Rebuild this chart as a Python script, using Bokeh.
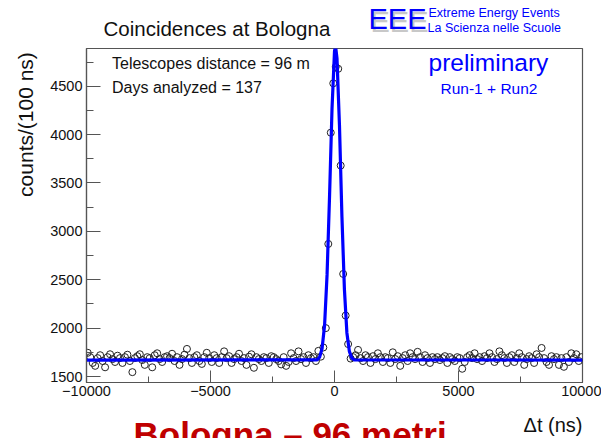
import math
from bokeh.plotting import figure
from bokeh.layouts import column, row
from bokeh.models import Label, SingleIntervalTicker, CustomJSTickFormatter, ColumnDataSource, Range1d
from bokeh.embed import file_html
from bokeh.resources import INLINE

# ---------------- data ----------------
bin_width = 100
x_min, x_max = -10000, 10000
y_min, y_max = 1438, 4890

counts_left = [
    1745, 1700, 1640, 1610, 1690, 1720, 1660, 1595, 1700, 1730,
    1680, 1650, 1715, 1690, 1640, 1700, 1725, 1660, 1545, 1690,
    1710, 1730, 1670, 1620, 1700, 1690, 1595, 1720, 1740, 1680,
    1650, 1700, 1710, 1690, 1735, 1660, 1700, 1620, 1680, 1725,
    1785, 1690, 1640, 1700, 1720, 1660, 1630, 1700, 1745, 1690,
    1650, 1720, 1690, 1640, 1700, 1760, 1690, 1710, 1640, 1680,
    1700, 1735, 1660, 1690, 1620, 1705, 1730, 1590, 1700, 1680,
    1660, 1700, 1690, 1640, 1710, 1700, 1680, 1660, 1625, 1700,
    1610, 1650, 1740, 1690, 1660, 1760, 1680, 1700, 1640, 1720,
    1690, 1700, 1660, 1765,
]
counts_peak = [1705, 1800, 2000, 2870, 4020, 4530, 4700, 4680, 3680, 2560, 2130, 1835]
counts_right = [
    1685, 1700, 1720, 1775,
    1690, 1660, 1720, 1700, 1640, 1710, 1680, 1740, 1700, 1650,
    1700, 1690, 1640, 1750, 1680, 1710, 1610, 1690, 1720, 1660,
    1740, 1700, 1680, 1755, 1700, 1650, 1720, 1690, 1640, 1700,
    1680, 1700, 1670, 1690, 1710, 1640, 1700, 1680, 1660, 1700,
    1690, 1580, 1650, 1700, 1720, 1690, 1740, 1680, 1700, 1660,
    1710, 1690, 1740, 1700, 1650, 1680, 1760, 1720, 1690, 1640,
    1700, 1720, 1650, 1690, 1740, 1700, 1620, 1680, 1710, 1690,
    1640, 1730, 1700, 1795, 1690, 1650, 1620, 1710, 1680, 1700,
    1620, 1690, 1600, 1700, 1650, 1740, 1690, 1730, 1660, 1700,
]
counts = counts_left + counts_peak + counts_right
bin_centers = list(range(x_min + bin_width // 2, x_max, bin_width))

# fitted curve vertices
fit_x = [-10000, -700, -600, -500, -400, -300, -200, -100, 0, 40, 100, 200, 300, 400, 500, 600, 700, 800, 10000]
fit_y = [1670, 1672, 1700, 1790, 2030, 2550, 3360, 4270, 4860, 4920, 4790, 4100, 3150, 2400, 1950, 1760, 1690, 1672, 1670]

x_ticks_interval = 5000
y_ticks_interval = 500

# ---------------- layout (pixels) ----------------
W, H = 601, 438
TOP_H = 46          # title strip
BOT_H = 26          # strip below the x axis
LEFT_W = 40         # strip holding the y axis title
MAIN_W = W - LEFT_W
MAIN_H = H - TOP_H - BOT_H
FL, FR, FT, FB = 86, 582, 48, 382   # frame edges on the page

FONT = "Liberation Sans"


def strip(x0, x1, y0, y1):
    f = figure(width=x1 - x0, height=y1 - y0,
               x_range=Range1d(x0, x1), y_range=Range1d(y1, y0),
               output_backend="svg", toolbar_location=None,
               x_axis_location=None, y_axis_location=None,
               min_border=0, min_border_left=0, min_border_right=0,
               min_border_top=0, min_border_bottom=0,
               background_fill_color="white", border_fill_color="white")
    f.title.visible = False
    f.outline_line_color = None
    f.grid.visible = False
    return f


def add_text(f, x, y, text, size, color="#111111", align="left",
             angle=0.0, style="normal"):
    # (x, y) is the left end / vertical middle of the capitals
    f.add_layout(Label(x=x, y=y, text=text, text_font=FONT,
                       text_font_size=size, text_color=color, text_align=align,
                       text_baseline="alphabetic", angle=angle, text_font_style=style))


# --- main plot ---
p = figure(width=MAIN_W, height=MAIN_H, x_range=(x_min, x_max), y_range=(y_min, y_max),
           output_backend="svg", toolbar_location=None,
           min_border_left=FL - LEFT_W, min_border_right=W - FR,
           min_border_top=FT - TOP_H, min_border_bottom=(H - BOT_H) - FB,
           background_fill_color="white", border_fill_color="white")
p.title.visible = False
p.outline_line_color = "#555555"
p.outline_line_width = 1.2
p.grid.visible = False

p.xaxis.ticker = SingleIntervalTicker(interval=x_ticks_interval, num_minor_ticks=2)
p.yaxis.ticker = SingleIntervalTicker(interval=y_ticks_interval, num_minor_ticks=2)
p.xaxis.formatter = CustomJSTickFormatter(
    code="return tick < 0 ? '\u2212' + Math.abs(tick) : '' + tick;")

for ax in (p.xaxis, p.yaxis):
    ax.axis_line_color = "#555555"
    ax.axis_line_width = 1.2
    ax.major_tick_line_color = "#555555"
    ax.minor_tick_line_color = "#555555"
    ax.major_tick_out = 0
    ax.minor_tick_out = 0
    ax.major_label_text_font = FONT
    ax.major_label_text_font_size = "14.5px"
    ax.major_label_text_color = "#111111"

p.xaxis.major_tick_in = 12
p.xaxis.minor_tick_in = 6
p.yaxis.major_tick_in = 14
p.yaxis.minor_tick_in = 7
p.xaxis.major_label_standoff = 3
p.yaxis.major_label_standoff = 4

src = ColumnDataSource(dict(x=bin_centers, y=counts))
p.scatter("x", "y", source=src, marker="circle", size=7, fill_color=None,
          line_color="#222222", line_width=1)
p.line(fit_x, fit_y, line_color="#0000ff", line_width=3.2)


def dx(px):
    return x_min + (px - FL) / (FR - FL) * (x_max - x_min)


def dy(py):
    return y_max - (py - FT) / (FB - FT) * (y_max - y_min)


for px, py, txt, size, col in [
    (111.5, 62.8, "Telescopes distance = 96 m", "16px", "#111111"),
    (111.5, 87.0, "Days analyzed = 137", "16px", "#111111"),
    (428, 61.8, "preliminary", "24.5px", "#0000ff"),
    (440, 88.3, "Run-1 + Run2", "15.5px", "#0000ff"),
]:
    add_text(p, dx(px), dy(py), txt, size, color=col)

# --- title strip ---
top = strip(0, W, 0, TOP_H)
add_text(top, 103, 27.8, "Coincidences at Bologna", "20.5px")
add_text(top, 370, 21.3, "EEE", "29px", color="#c8c8c8")
add_text(top, 368, 18.8, "EEE", "29px", color="#0000ff")
add_text(top, 428, 12.5, "Extreme Energy Events", "12.5px", color="#0000ff")
add_text(top, 427, 27.2, "La Scienza nelle Scuole", "12.5px", color="#0000ff")

# --- left strip (y axis title) ---
left = strip(0, LEFT_W, TOP_H, H - BOT_H)
add_text(left, 25, 50, "counts/(100 ns)", "21px", align="right", angle=math.pi / 2)

# --- bottom strip (x axis title and slide caption) ---
bottom = strip(0, W, H - BOT_H, H)
add_text(bottom, 582, 424.6, "\u0394t (ns)", "20px", align="right")
add_text(bottom, 133, 434, "Bologna \u2013 96 metri", "35px", color="#c00000", style="bold")

layout = column(top, row(left, p, spacing=0), bottom, spacing=0)
open("out.html", "w").write(file_html(layout, INLINE))
